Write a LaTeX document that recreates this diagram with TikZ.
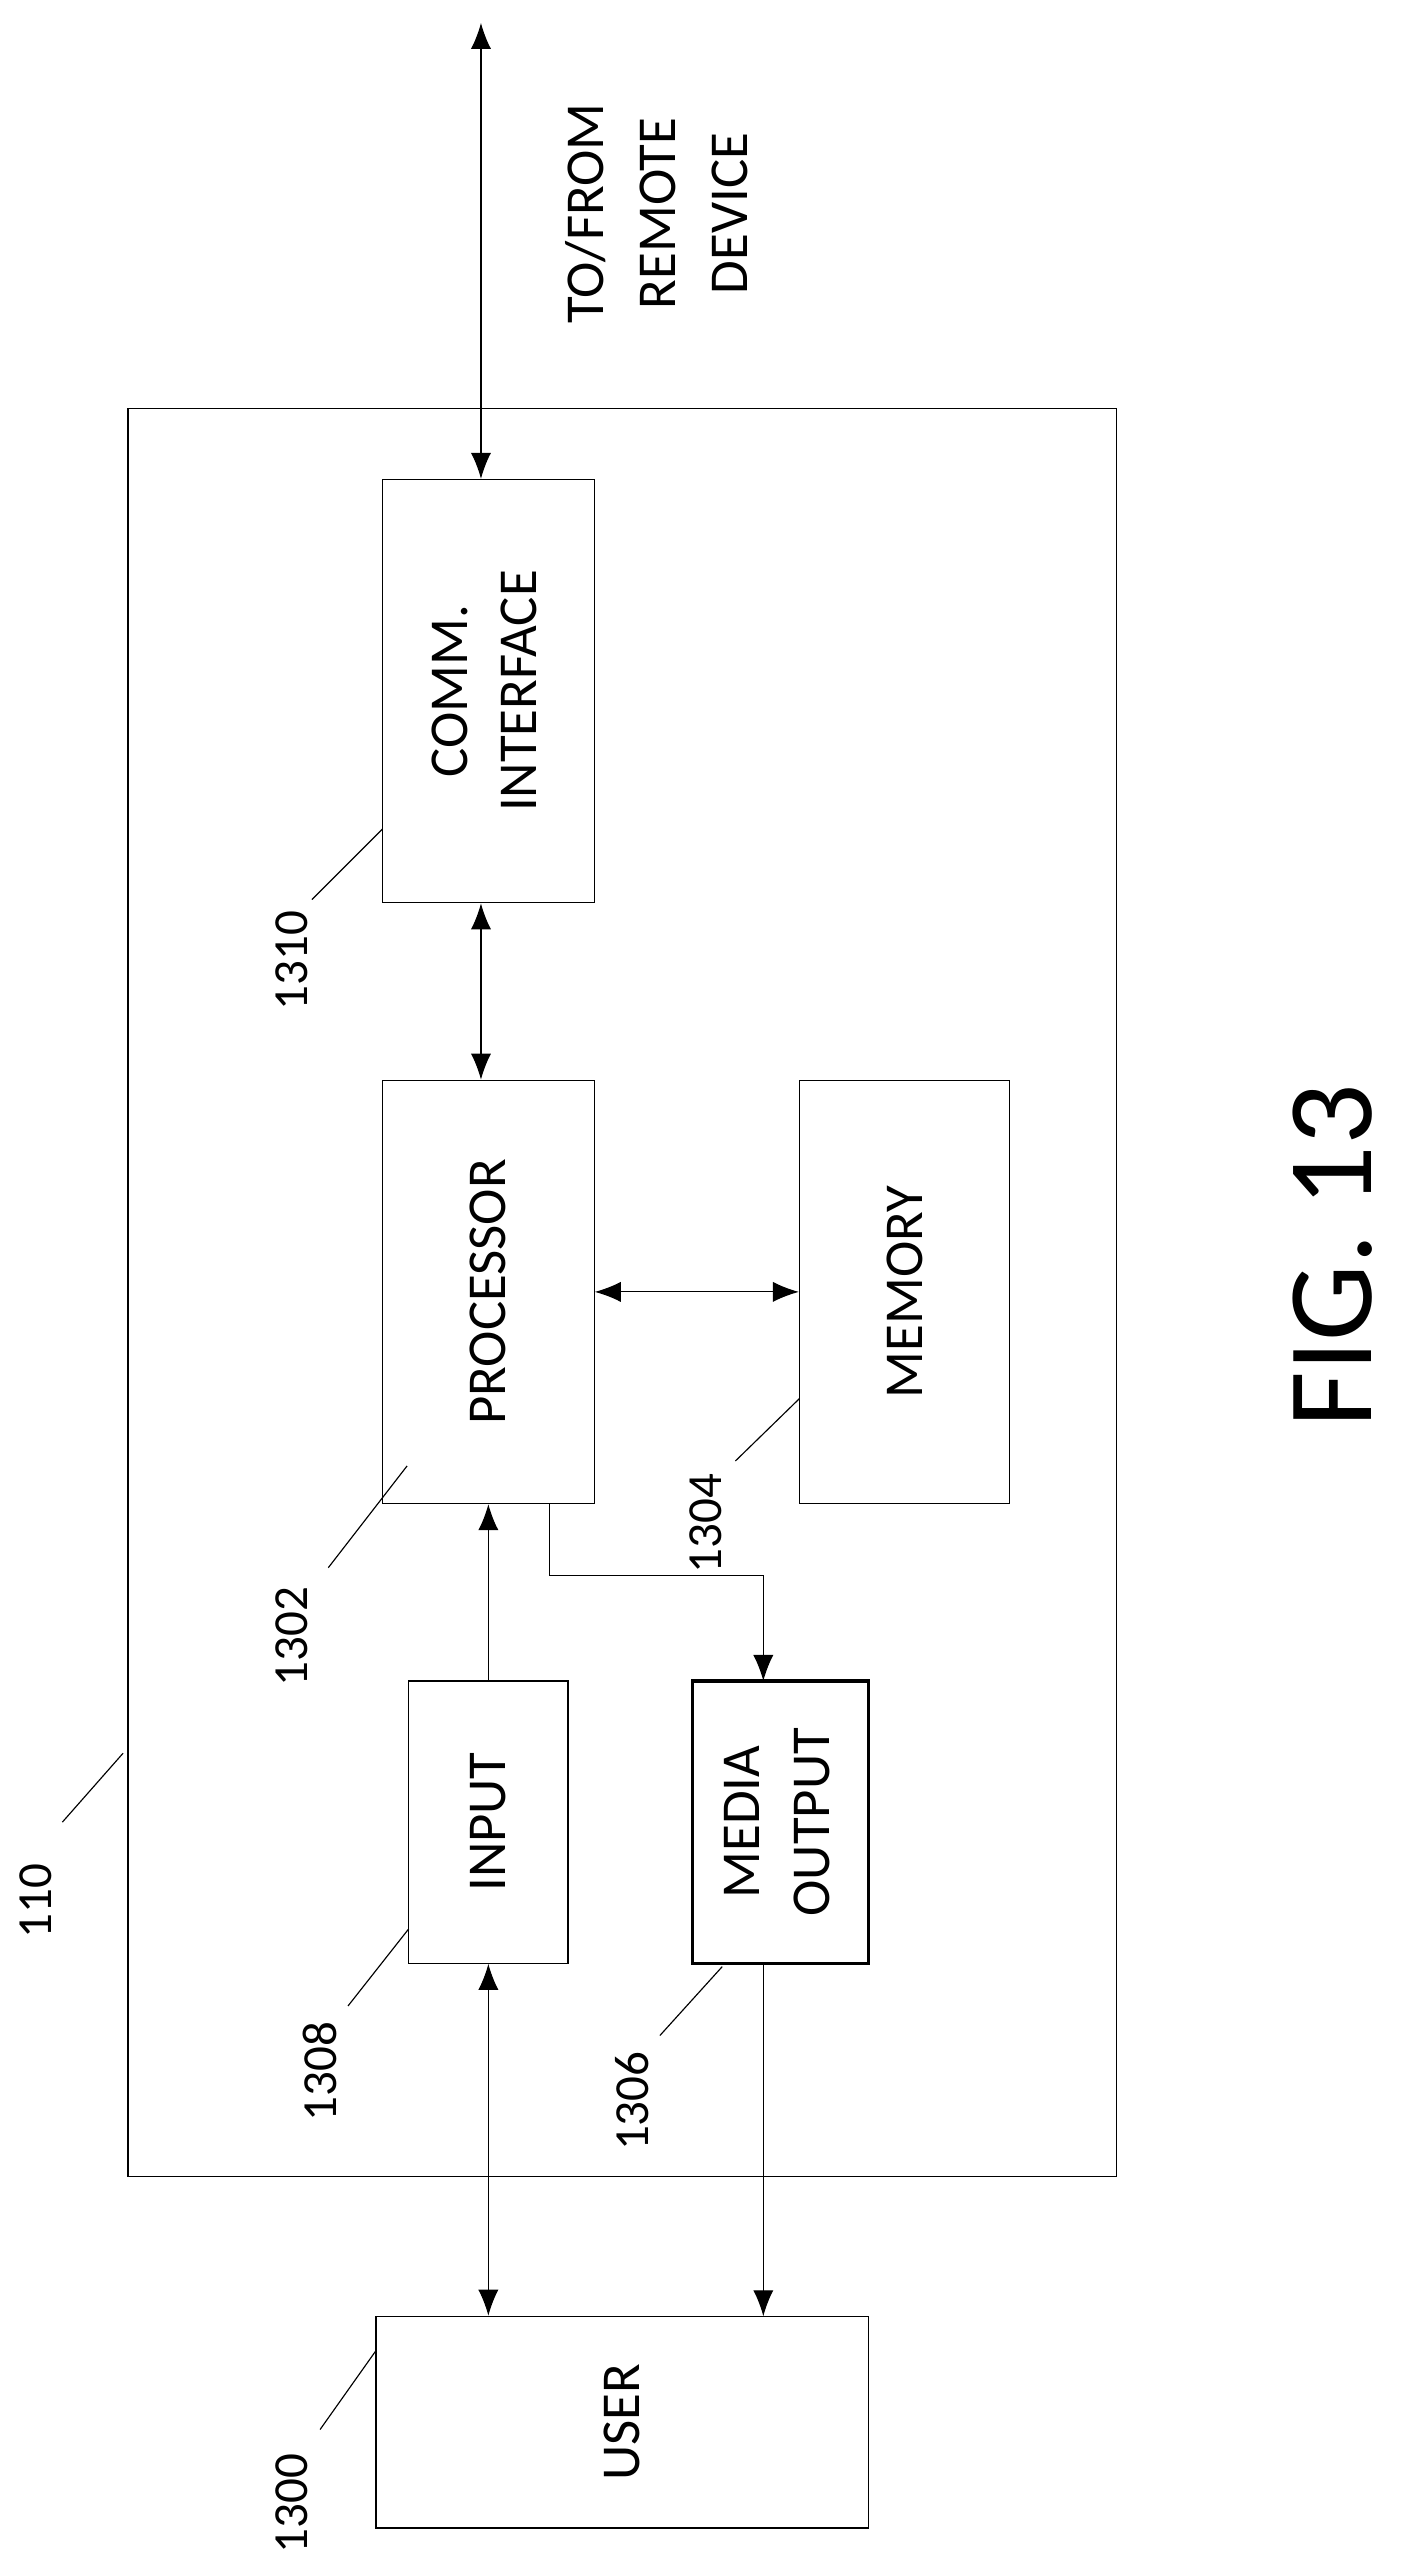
\documentclass[tikz,border=0pt]{standalone}
\usepackage{fontspec}
\setmainfont{Carlito}
\usetikzlibrary{arrows.meta, calc}
\tikzset{
    blk/.style={draw, thin, align=center, font=\fontsize{19}{24}\selectfont},
    conn/.style={-{Latex[length=9pt, width=7pt]}, thin},
    biconn/.style={{Latex[length=9pt, width=7pt]}-{Latex[length=9pt, width=7pt]}, thin},
    refnum/.style={font=\fontsize{17}{19}\selectfont, rotate=90},
}
\begin{document}
\begin{tikzpicture}[x=0.02cm, y=-0.02cm]
            \useasboundingbox (0,0) rectangle (860,1565);

            % housing 110
            \draw[thin] (78,249) rectangle (680,1326);

            \node[blk, minimum width=2.58cm, minimum height=5.16cm] (comm) at (297.5,421) {\rotatebox{90}{\begin{tabular}{c}COMM.\\INTERFACE\end{tabular}}};
            \node[blk, minimum width=2.58cm, minimum height=5.16cm] (proc) at (297.5,787) {\rotatebox{90}{PROCESSOR}};
            \node[blk, minimum width=2.56cm, minimum height=5.16cm] (mem) at (551,787) {\rotatebox{90}{MEMORY}};
            \node[blk, minimum width=1.94cm, minimum height=3.44cm] (input) at (297.5,1110) {\rotatebox{90}{INPUT}};
            \node[blk, line width=1.2pt, minimum width=2.14cm, minimum height=3.44cm] (media) at (475.5,1110) {\rotatebox{90}{\begin{tabular}{c}MEDIA\\OUTPUT\end{tabular}}};
            \node[blk, minimum width=6cm, minimum height=2.58cm] (user) at (379,1475.5) {\rotatebox{90}{USER}};

            \coordinate (remote) at (293,14);
            \node[refnum, font=\fontsize{19}{25}\selectfont, align=center, anchor=center] (remotetxt) at (400,130) {TO/FROM\\REMOTE\\DEVICE};

            % connectors
            \draw[biconn] (remote) -- (remote |- comm.north);
            \draw[biconn] (comm.south -| remote) -- (proc.north -| remote);
            \draw[biconn] (proc.east) -- (mem.west);
            \draw[conn] (input.north) -- (proc.south -| input.north);
            \draw[conn] ([xshift=0.75cm]proc.south) |- (465,960) -- (465,1024);
            \draw[biconn] (input.south) -- (input.south |- user.north);
            \draw[conn] (465,1196) -- (465,1411);

            % reference numerals
            \node[refnum] (n110) at (22,1158) {110};
            \draw[thin] (38,1110) -- (75,1068);
            \node[refnum] (n1310) at (178,585) {1310};
            \draw[thin] (190,548) -- (233,505);
            \node[refnum] (n1302) at (178,997) {1302};
            \draw[thin] (200,955) -- (248,893);
            \node[refnum] (n1304) at (430,928) {1304};
            \draw[thin] (448,890) -- (487,852);
            \node[refnum] (n1308) at (195,1262) {1308};
            \draw[thin] (212,1222) -- (249,1175);
            \node[refnum] (n1306) at (385,1280) {1306};
            \draw[thin] (402,1240) -- (440,1198);
            \node[refnum] (n1300) at (178,1525) {1300};
            \draw[thin] (195,1480) -- (229,1432);

            \node[rotate=90, font=\fontsize{42}{50}\selectfont] (fig) at (812,765) {FIG. 13};
\end{tikzpicture}
\end{document}
